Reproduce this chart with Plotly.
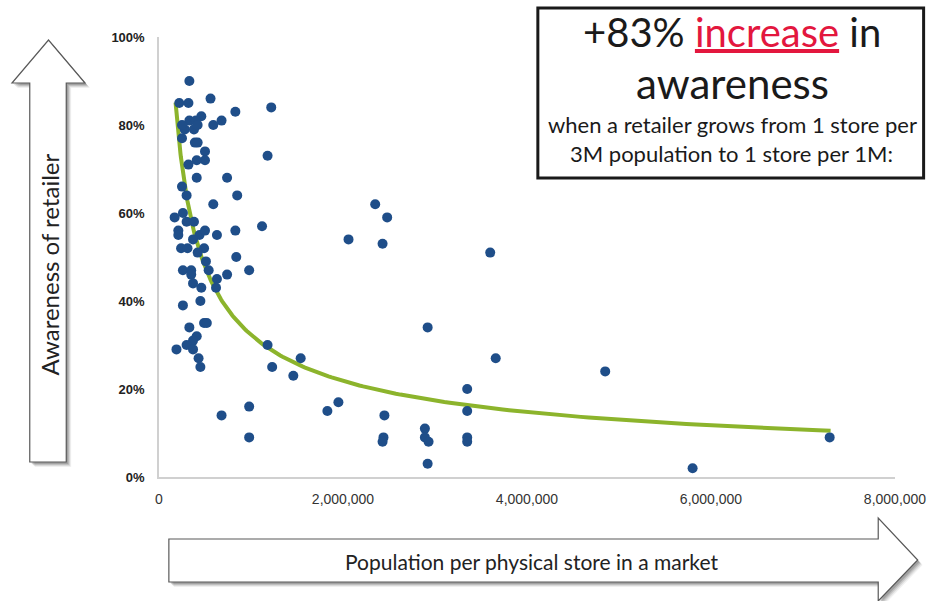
import numpy as np
import plotly.graph_objects as go

# Population per physical store (millions) and retailer awareness (%) by market
pop_per_store_m = [
    0.33, 0.22, 0.32, 0.56, 0.83, 1.22, 0.46, 0.33, 0.40, 0.38, 0.28, 0.42, 0.25,
    0.68, 0.59, 0.25, 0.39, 0.42, 0.50, 0.50, 0.41, 0.32, 1.18, 0.41, 0.74, 0.25,
    0.30, 0.85, 0.59, 0.17, 0.26, 0.30, 0.38, 0.21, 0.21, 0.44, 0.50, 0.63, 0.83,
    1.12, 0.37, 0.24, 0.31, 0.49, 0.42, 0.51, 0.84, 0.26, 0.35, 0.54, 0.98, 0.35,
    0.37, 0.46, 0.63, 0.62, 0.74, 0.45, 0.26, 0.49, 0.52, 0.33, 0.41, 0.37, 0.30,
    0.19, 0.37, 0.43, 0.45, 1.18, 1.54, 1.23, 1.46, 2.35, 2.48, 2.06, 2.43, 3.60,
    2.92, 3.66, 4.85, 3.35, 1.95, 1.83, 2.45, 3.35, 2.89, 2.44, 2.43, 2.89, 2.93,
    3.35, 3.35, 2.92, 5.80, 7.29, 0.68, 0.98, 0.98,
]
awareness_pct = [
    90, 85, 85, 86, 83, 84, 82, 81, 81, 79, 79, 80, 80,
    81, 80, 77, 76, 76, 74, 72, 72, 71, 73, 68, 68, 66,
    64, 64, 62, 59, 60, 58, 58, 56, 55, 55, 56, 55, 56,
    57, 54, 52, 52, 52, 51, 49, 50, 47, 47, 47, 47, 46,
    44, 43, 45, 43, 46, 40, 39, 35, 35, 34, 32, 31, 30,
    29, 29, 27, 25, 30, 27, 25, 23, 62, 59, 54, 53, 51,
    34, 27, 24, 20, 17, 15, 14, 15, 11, 9, 8, 9, 8,
    9, 8, 3, 2, 9, 14, 16, 9,
]

# Power trendline: awareness = coef * population^exp (population in millions)
trend_coef = 32.3
trend_exp = -0.565
trend_start_m = 0.18
trend_end_m = 7.3

x_ticks = [0, 2_000_000, 4_000_000, 6_000_000, 8_000_000]
x_tick_labels = ["0", "2,000,000", "4,000,000", "6,000,000", "8,000,000"]
y_ticks = [0, 20, 40, 60, 80, 100]
y_tick_labels = ["0%", "20%", "40%", "60%", "80%", "100%"]

x_title = "Population per physical store in a market"
y_title = "Awareness of retailer"

DOT = "#1f4e89"
TREND = "#8cb42c"
RED = "#e3173e"
W, H = 938, 601
L, R, T, B = 159, 905, 37, 477


def px(x):
    return (x - L) / (R - L)


def py(y):
    return (B - y) / (B - T)


def path(points):
    return "M " + " L ".join(f"{px(a):.5f},{py(b):.5f}" for a, b in points) + " Z"


pop = np.array(pop_per_store_m) * 1_000_000
trend_x_m = np.geomspace(trend_start_m, trend_end_m, 200)
trend_y = trend_coef * trend_x_m ** trend_exp

fig = go.Figure()
fig.add_trace(go.Scatter(
    x=trend_x_m * 1_000_000, y=trend_y, mode="lines",
    line=dict(color=TREND, width=4), hoverinfo="skip", showlegend=False,
))
fig.add_trace(go.Scatter(
    x=pop, y=awareness_pct, mode="markers",
    marker=dict(color=DOT, size=10, line=dict(width=0)), showlegend=False,
))

# Arrow outlines
up_arrow = [(28, 462), (28, 83), (10, 83), (47, 40), (84, 83), (65, 83), (65, 462)]
right_arrow = [(169, 539), (888, 539), (888, 518), (928, 560), (888, 601), (888, 582), (169, 582)]

shapes = []
for arrow in (up_arrow, right_arrow):
    for d, op in ((5, 0.06), (4, 0.09), (3, 0.12), (2, 0.15)):
        shapes.append(dict(
            type="path", xref="paper", yref="paper",
            path=path([(a + d, b + d) for a, b in arrow]),
            fillcolor=f"rgba(0,0,0,{op})", line=dict(width=0), layer="below",
        ))
    shapes.append(dict(
        type="path", xref="paper", yref="paper", path=path(arrow),
        fillcolor="white", line=dict(color="#595959", width=1.2), layer="above",
    ))

# Callout box
shapes.append(dict(
    type="rect", xref="paper", yref="paper",
    x0=px(543), x1=px(934), y0=py(8), y1=py(178),
    line=dict(color="#1a1a1a", width=3), fillcolor="white", layer="above",
))

FONT = "Lato, 'Noto Sans', sans-serif"
annotations = [
    dict(x=px(47), y=py(265), text=y_title, textangle=-90,
         font=dict(family=FONT, size=24, color="#222")),
    dict(x=px(537), y=py(561), text=x_title,
         font=dict(family=FONT, size=21, color="#222")),
    dict(x=px(740), y=py(32),
         text=f"+83% <span style='color:{RED};text-decoration:underline'>increase</span> in",
         font=dict(family=FONT, size=40, color="#1a1a1a")),
    dict(x=px(740), y=py(83), text="awareness",
         font=dict(family=FONT, size=42, color="#1a1a1a")),
    dict(x=px(740), y=py(124), text="when a retailer grows from 1 store per",
         font=dict(family=FONT, size=22, color="#1a1a1a")),
    dict(x=px(739), y=py(153), text="3M population to 1 store per 1M:",
         font=dict(family=FONT, size=22, color="#1a1a1a")),
]
for a in annotations:
    a.update(xref="paper", yref="paper", showarrow=False, xanchor="center", yanchor="middle")

fig.update_layout(
    width=W, height=H,
    margin=dict(l=L, r=W - R, t=T, b=H - B, pad=0),
    paper_bgcolor="white", plot_bgcolor="white",
    shapes=shapes, annotations=annotations,
    xaxis=dict(
        range=[0, 8_000_000], tickmode="array", tickvals=x_ticks, ticktext=x_tick_labels,
        showgrid=False, zeroline=False, showline=True, linecolor="#d0d0d0", linewidth=1.5,
        ticks="", ticklabelstandoff=8,
        tickfont=dict(family="'Liberation Sans Narrow', 'Liberation Sans', Arial", size=14, color="#333"),
    ),
    yaxis=dict(
        range=[0, 100], tickmode="array", tickvals=y_ticks,
        ticktext=[f"<b>{t}</b>" for t in y_tick_labels],
        showgrid=False, zeroline=False, showline=True, linecolor="#d0d0d0", linewidth=1.5,
        ticks="", ticklabelstandoff=10,
        tickfont=dict(family="'Liberation Sans', Arial", size=13, color="#222"),
    ),
)

fig.write_html("out.html")
